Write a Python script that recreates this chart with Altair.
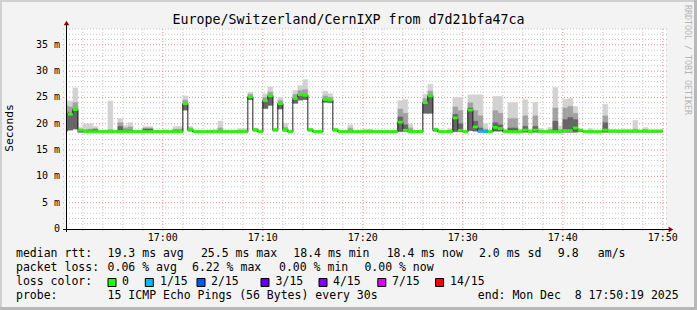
import altair as alt
import pandas as pd

# ---------------- data ----------------
# one RRD step = 30 s; x axis counted in minutes after 16:50:00
step_minutes = 0.5
view_start_min = 19 / 60          # 16:50:19
view_end_min = 60 + 19 / 60       # 17:50:19

median_ms = [
    22.2, 21.8, 22.7, 18.8, 18.5, 18.5, 18.5, 18.5, 18.5, 18.5,
    18.5, 18.5, 18.5, 18.5, 18.5, 18.5, 18.5, 18.5, 18.5, 18.5,
    18.5, 18.5, 18.5, 18.5, 23.8, 18.9, 18.5, 18.5, 18.5, 18.5,
    18.5, 18.5, 18.5, 18.5, 18.5, 18.5, 18.5, 25.1, 18.9, 18.5,
    24.4, 25.3, 18.9, 23.8, 18.9, 18.5, 24.8, 25.5, 25.4, 18.9,
    18.5, 18.5, 24.6, 24.5, 18.9, 18.5, 18.5, 18.5, 18.5, 18.5,
    18.5, 18.5, 18.5, 18.5, 18.5, 18.5, 18.5, 20.3, 18.75, 18.5,
    18.5, 18.5, 24.0, 25.3, 18.95, 18.5, 18.5, 18.5, 21.1, 18.75,
    18.5, 22.6, 19.4, 18.6, 18.5, 18.5, 19.3, 19.1, 18.5, 18.5,
    18.5, 18.5, 18.8, 18.5, 18.8, 18.5, 18.5, 18.5, 18.5, 18.5,
    18.7, 18.7, 19.2, 18.8, 18.5, 18.5, 18.5, 18.5, 18.8, 18.6,
    18.6, 18.6, 18.6, 18.6, 18.6, 18.6, 18.6, 18.6, 18.6, 18.6,
]
smoke_min_ms = [
    18.6, 18.8, 19.0, 18.4, 18.4, 18.4, 18.4, 18.4, 18.4, 18.4,
    18.4, 18.4, 18.4, 18.4, 18.4, 18.4, 18.4, 18.4, 18.4, 18.4,
    18.4, 18.4, 18.4, 18.4, 22.6, 18.6, 18.4, 18.4, 18.4, 18.4,
    18.4, 18.4, 18.4, 18.4, 18.4, 18.4, 18.4, 24.6, 18.6, 18.4,
    22.9, 23.5, 18.6, 22.8, 18.6, 18.4, 23.9, 24.5, 24.6, 18.6,
    18.4, 18.4, 24.1, 24.0, 18.6, 18.4, 18.4, 18.4, 18.4, 18.4,
    18.4, 18.4, 18.4, 18.4, 18.4, 18.4, 18.4, 18.5, 18.5, 18.4,
    18.4, 18.4, 22.0, 22.0, 18.6, 18.4, 18.4, 18.4, 18.5, 18.5,
    18.4, 18.7, 18.6, 18.4, 18.4, 18.4, 18.6, 18.6, 18.4, 18.4,
    18.4, 18.4, 18.4, 18.4, 18.4, 18.4, 18.4, 18.4, 18.4, 18.4,
    18.4, 18.4, 18.4, 18.5, 18.4, 18.4, 18.4, 18.4, 18.4, 18.4,
    18.4, 18.4, 18.4, 18.4, 18.4, 18.4, 18.4, 18.4, 18.4, 18.4,
]
smoke_dark_ms = [
    22.4, 22.0, 22.9, 18.7, 18.7, 18.8, 18.9, 18.6, 18.6, 18.6,
    18.6, 19.5, 18.8, 18.8, 18.6, 18.6, 19.0, 19.0, 18.6, 18.6,
    18.6, 18.6, 18.7, 18.7, 23.9, 19.0, 18.6, 18.6, 18.6, 18.6,
    18.6, 18.7, 18.6, 18.6, 18.6, 18.6, 18.6, 25.2, 18.9, 18.6,
    24.5, 25.4, 18.9, 23.9, 18.9, 18.6, 24.9, 25.6, 25.5, 18.9,
    18.6, 18.6, 24.7, 24.6, 18.9, 18.6, 18.6, 18.7, 18.6, 18.6,
    18.6, 18.6, 18.6, 18.6, 18.6, 18.6, 18.6, 21.3, 19.8, 18.7,
    18.6, 18.6, 24.1, 25.4, 19.0, 18.6, 18.6, 18.6, 21.8, 20.0,
    18.6, 23.0, 20.5, 19.2, 18.7, 18.6, 20.2, 19.8, 18.6, 19.2,
    19.2, 18.6, 19.5, 18.6, 19.5, 18.6, 18.6, 18.6, 20.5, 18.6,
    20.8, 21.2, 20.8, 18.8, 18.6, 18.6, 18.6, 18.6, 20.2, 18.6,
    18.6, 18.6, 18.6, 18.6, 18.7, 18.6, 18.6, 18.6, 18.6, 18.6,
]
smoke_mid_ms = [
    23.4, 23.2, 24.0, 19.0, 18.9, 19.0, 19.1, 18.7, 18.7, 18.9,
    18.7, 20.2, 19.2, 19.4, 18.7, 18.7, 19.2, 19.2, 18.7, 18.7,
    18.7, 18.7, 19.0, 19.0, 24.5, 19.2, 18.7, 18.7, 18.7, 18.7,
    18.7, 19.2, 18.7, 18.7, 18.7, 18.8, 18.8, 25.6, 19.0, 18.7,
    25.0, 26.0, 19.0, 24.4, 19.3, 18.7, 25.6, 26.3, 26.5, 19.0,
    18.7, 18.7, 25.3, 25.0, 19.0, 18.7, 18.7, 19.2, 18.7, 18.7,
    18.8, 18.8, 18.7, 18.7, 18.7, 18.7, 18.7, 22.8, 22.0, 19.2,
    18.7, 18.7, 24.8, 26.2, 19.0, 18.7, 18.7, 18.8, 23.2, 22.5,
    18.7, 24.0, 22.5, 21.5, 19.0, 18.7, 22.5, 22.0, 18.8, 21.0,
    21.0, 18.8, 21.5, 18.8, 21.5, 18.8, 18.7, 18.9, 23.0, 18.9,
    23.0, 23.3, 22.0, 18.9, 18.7, 18.8, 18.7, 18.7, 21.5, 18.8,
    18.8, 18.8, 18.8, 18.8, 19.0, 18.7, 18.9, 18.7, 18.7, 18.7,
]
smoke_max_ms = [
    24.4, 24.3, 26.8, 19.3, 20.0, 20.0, 19.5, 18.8, 18.8, 24.3,
    18.8, 21.0, 19.7, 20.2, 18.8, 18.8, 19.5, 19.5, 18.8, 18.8,
    18.9, 18.8, 19.5, 19.5, 25.3, 19.5, 18.8, 18.8, 18.8, 18.8,
    18.9, 20.5, 18.8, 18.8, 18.8, 19.1, 19.1, 26.0, 19.1, 18.8,
    25.7, 27.0, 19.1, 25.0, 20.1, 18.8, 26.35, 27.3, 28.4, 19.1,
    18.8, 18.8, 26.2, 25.7, 19.1, 18.8, 18.8, 19.8, 18.8, 18.8,
    19.0, 19.0, 18.8, 18.8, 18.8, 18.8, 18.8, 24.4, 24.6, 19.9,
    18.8, 18.8, 25.6, 27.5, 19.1, 18.8, 18.8, 19.1, 25.0, 25.0,
    18.8, 25.5, 25.5, 25.5, 20.0, 18.8, 25.2, 25.2, 19.0, 24.0,
    24.0, 19.0, 24.6, 19.0, 24.1, 19.1, 18.8, 19.3, 26.9, 19.6,
    24.65, 24.8, 23.3, 19.0, 18.8, 19.1, 18.8, 18.8, 23.7, 19.0,
    18.9, 18.9, 18.9, 18.9, 20.65, 18.8, 19.3, 18.9, 18.9, 18.9,
]
loss_bucket = ["0"] * 83 + ["1/15"] * 2 + ["0"] * 35

loss_labels = ["0", "1/15", "2/15", "3/15", "4/15", "7/15", "14/15"]
loss_colors = ["#26ff00", "#00b8ff", "#0059ff", "#5e00ff", "#7e00ff", "#dd00ff", "#ff0000"]

x_tick_minutes = [10, 20, 30, 40, 50, 60]
x_tick_labels = ["17:00", "17:10", "17:20", "17:30", "17:40", "17:50"]
y_tick_values = [0, 5, 10, 15, 20, 25, 30, 35]
y_tick_labels = ["0\u00a0\u00a0", "5 m", "10 m", "15 m", "20 m", "25 m", "30 m", "35 m"]

title_text = "Europe/Switzerland/CernIXP from d7d21bfa47ca"
y_title = "Seconds"
watermark = "RRDTOOL / TOBI OETIKER"
legend_rows = [
    ["median rtt:", "19.3 ms avg", "25.5 ms max", "18.4 ms min", "18.4 ms now", "2.0 ms sd", "9.8", "am/s"],
    ["packet loss:", "0.06 % avg", "6.22 % max", "0.00 % min", "0.00 % now"],
    ["loss color:"],
    ["probe:", "15 ICMP Echo Pings (56 Bytes) every 30s", "end: Mon Dec\u00a0\u00a08 17:50:19 2025"],
]

# ---------------- layout (pixels) ----------------
W, H = 600, 200
PAD_L, PAD_T = 66, 29
legend_x = [
    [16, 107.6, 200.9, 293.3, 386.7, 479, 557.8, 597.8],
    [16, 107.6, 192, 279, 364.4],
    [16],
    [16, 107.6, 477.8],
]
legend_y = [254.3, 268.3, 282.3, 296]
swatch_x = [108, 145.3, 197, 261, 319, 377.8, 435.6]
swatch_label_x = [122, 160, 211, 275.6, 333, 392, 450]
MONO = "DejaVu Sans Mono"

n = len(median_ms)
df = pd.DataFrame({
    "t0": [i * step_minutes for i in range(n)],
    "t1": [(i + 1) * step_minutes for i in range(n)],
    "med": median_ms,
    "smin": smoke_min_ms,
    "sdark": smoke_dark_ms,
    "smid": smoke_mid_ms,
    "smax": smoke_max_ms,
    "loss": loss_bucket,
})
line_df = pd.DataFrame({
    "t": [i * step_minutes for i in range(n)] + [n * step_minutes],
    "med": median_ms + [median_ms[-1]],
})

xs = alt.Scale(domain=[view_start_min, view_end_min], nice=False, zero=False)
ys = alt.Scale(domain=[0, 38], nice=False, zero=False)
one = pd.DataFrame({"k": [0]})


def band(top, color):
    return alt.Chart(df).mark_rect(color=color, clip=True, stroke=color, strokeWidth=0.4).encode(
        x=alt.X("t0:Q", scale=xs, axis=None), x2="t1:Q",
        y=alt.Y("smin:Q", scale=ys, axis=None), y2=alt.Y2(f"{top}:Q"))


def txt(s, x, y, size=11.5, align="left", angle=0, color="black"):
    return alt.Chart(one).mark_text(
        text=s, font=MONO, fontSize=size, align=align, baseline="middle",
        angle=angle, color=color).encode(x=alt.value(x), y=alt.value(y))


def box(x0, x1, y0, y1, fill, stroke=None):
    kw = dict(fill=fill)
    if stroke:
        kw.update(stroke=stroke, strokeWidth=1)
    else:
        kw.update(strokeWidth=0)
    return alt.Chart(one).mark_rect(**kw).encode(
        x=alt.value(x0), x2=alt.value(x1), y=alt.value(y0), y2=alt.value(y1))


layers = []

# grid (behind the data)
y_minor = pd.DataFrame({"v": [v for v in range(1, 39) if v % 5]})
y_major = pd.DataFrame({"v": [v for v in range(5, 39, 5)]})
x_minor = pd.DataFrame({"t": [t for t in range(2, 61, 2) if t % 10]})
x_major = pd.DataFrame({"t": x_tick_minutes})
layers.append(alt.Chart(y_minor).mark_rule(color="#C4C4C4", strokeDash=[1, 2]).encode(
    y=alt.Y("v:Q", scale=ys, axis=None), x=alt.value(-3), x2=alt.value(W + 3)))
layers.append(alt.Chart(x_minor).mark_rule(color="#C4C4C4", strokeDash=[1, 2]).encode(
    x=alt.X("t:Q", scale=xs, axis=None), y=alt.value(0), y2=alt.value(H + 3)))
layers.append(alt.Chart(y_major).mark_rule(color="#F08C8C", strokeDash=[1, 2]).encode(
    y=alt.Y("v:Q", scale=ys, axis=None), x=alt.value(-3), x2=alt.value(W + 3)))
layers.append(alt.Chart(x_major).mark_rule(color="#F08C8C", strokeDash=[1, 2]).encode(
    x=alt.X("t:Q", scale=xs, axis=None), y=alt.value(0), y2=alt.value(H + 3)))

# smoke
layers.append(band("smax", "#D2D2D2"))
layers.append(band("smid", "#A2A2A2"))
layers.append(band("sdark", "#666666"))
# median line
layers.append(alt.Chart(line_df).mark_line(
    color="#202020", strokeWidth=1, interpolate="step-after", clip=True).encode(
    x=alt.X("t:Q", scale=xs, axis=None), y=alt.Y("med:Q", scale=ys, axis=None)))
# loss-coloured median band
layers.append(alt.Chart(df).transform_calculate(
    lo="datum.med - 0.26", hi="datum.med + 0.26").mark_rect(clip=True).encode(
    x=alt.X("t0:Q", scale=xs, axis=None), x2="t1:Q",
    y=alt.Y("lo:Q", scale=ys, axis=None), y2="hi:Q",
    color=alt.Color("loss:N", scale=alt.Scale(domain=loss_labels, range=loss_colors), legend=None)))

# axes
layers.append(alt.Chart(one).mark_rule(color="black").encode(
    x=alt.value(0.5), y=alt.value(-5), y2=alt.value(H + 3)))
layers.append(alt.Chart(one).mark_rule(color="black").encode(
    y=alt.value(H + 0.5), x=alt.value(-3), x2=alt.value(W + 4)))
layers.append(alt.Chart(one).mark_point(shape="triangle-up", filled=True, size=30,
                                        color="#8B0000", opacity=1).encode(
    x=alt.value(0.5), y=alt.value(-6)))
layers.append(alt.Chart(one).mark_point(shape="triangle-right", filled=True, size=30,
                                        color="#8B0000", opacity=1).encode(
    x=alt.value(W + 5), y=alt.value(H + 0.5)))

# tick labels
layers.append(alt.Chart(pd.DataFrame({"t": x_tick_minutes, "label": x_tick_labels})).mark_text(
    font=MONO, fontSize=10, align="center", baseline="middle", color="black").encode(
    x=alt.X("t:Q", scale=xs, axis=None), y=alt.value(H + 9), text="label:N"))
layers.append(alt.Chart(pd.DataFrame({"v": y_tick_values, "label": y_tick_labels})).mark_text(
    font=MONO, fontSize=10, align="right", baseline="middle", color="black").encode(
    y=alt.Y("v:Q", scale=ys, axis=None), x=alt.value(-6), text="label:N"))

# titles
layers.append(txt(title_text, 348.5 - PAD_L, 20 - PAD_T, size=13.3, align="center"))
layers.append(txt(y_title, 10 - PAD_L, 128 - PAD_T, size=11.3, align="center", angle=270))
layers.append(txt(watermark, 687 - PAD_L, 60 - PAD_T, size=8.3, align="center", angle=90,
                  color="#B4B4B4"))

# legend text
for row, xs_row, yy in zip(legend_rows, legend_x, legend_y):
    for s, xx in zip(row, xs_row):
        layers.append(txt(s, xx - PAD_L, yy - PAD_T))
for lab, col, sx, lx in zip(loss_labels, loss_colors, swatch_x, swatch_label_x):
    layers.append(box(sx - PAD_L, sx + 8 - PAD_L, 278.5 - PAD_T, 286.5 - PAD_T, col, "black"))
    layers.append(txt(lab, lx - PAD_L, legend_y[2] - PAD_T))

# frame (3D border)
layers.append(box(-PAD_L, 697 - PAD_L, -PAD_T, 2 - PAD_T, "#D0D0D0"))
layers.append(box(-PAD_L, 2 - PAD_L, -PAD_T, 310 - PAD_T, "#D0D0D0"))
layers.append(box(694 - PAD_L, 697 - PAD_L, -PAD_T, 310 - PAD_T, "#B8B8B8"))
layers.append(box(-PAD_L, 697 - PAD_L, 307 - PAD_T, 310 - PAD_T, "#B8B8B8"))

chart = alt.layer(*layers).properties(
    width=W, height=H,
    padding={"left": PAD_L, "top": PAD_T, "right": 697 - PAD_L - W, "bottom": 310 - PAD_T - H},
    autosize=alt.AutoSizeParams(type="none"),
    background="#F3F3F3",
).configure_view(fill="white", stroke=None)

chart.save("out.html", embed_options={"renderer": "svg", "actions": False})
